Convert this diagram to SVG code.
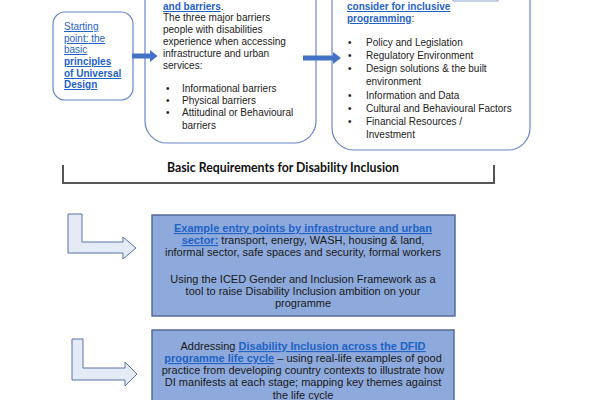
<svg xmlns="http://www.w3.org/2000/svg" width="600" height="400" viewBox="0 0 600 400">
<style>
text{font-family:"Liberation Sans",Arial,sans-serif;font-size:10px;fill:#222}
.m{font-size:11px;fill:#1a1a1a}
.lk{fill:#1F63C6;text-decoration:underline}
.b{font-weight:bold}
.rb{fill:#fff;stroke:#6A86CC;stroke-width:1.2}
.bb{fill:#8EA9DB;stroke:#4C6590;stroke-width:1.4}
.la{fill:#E4EAF6;stroke:#5A72A8;stroke-width:1}
.ca{fill:#4472C4}
</style>
<rect width="600" height="400" fill="#fff"/>
<g id="start">
<rect class="rb" x="53" y="12" width="80" height="88" rx="12"/>
<text x="64" y="30" class="lk">Starting</text>
<text x="64" y="42" class="lk">point: the</text>
<text x="64" y="53" class="lk">basic</text>
<text x="64" y="65" class="lk b">principles</text>
<text x="64" y="77" class="lk b">of Universal</text>
<text x="64" y="88" class="lk b">Design</text>
</g>
<g id="barriers">
<rect class="rb" x="145" y="-40" width="171" height="183" rx="22"/>
<text x="163" y="10"><tspan class="lk b">and barriers</tspan>.</text>
<text x="163" y="21">The three major barriers</text>
<text x="163" y="33">people with disabilities</text>
<text x="163" y="45">experience when accessing</text>
<text x="163" y="57">infrastructure and urban</text>
<text x="163" y="69">services:</text>
<text x="166" y="92">•</text><text x="182" y="92">Informational barriers</text>
<text x="166" y="104">•</text><text x="182" y="104">Physical barriers</text>
<text x="166" y="116">•</text><text x="182" y="116">Attitudinal or Behavioural</text>
<text x="182" y="129">barriers</text>
</g>
<g id="areas">
<rect class="rb" x="332" y="-40" width="198" height="190" rx="22"/>
<rect x="453" y="-10" width="45" height="11" fill="none" stroke="#8FA3CF" stroke-width="1"/>
<text x="347" y="10" class="lk b">consider for inclusive</text>
<text x="347" y="22"><tspan class="lk b">programming</tspan>:</text>
<text x="348" y="46">•</text><text x="366" y="46">Policy and Legislation</text>
<text x="348" y="59">•</text><text x="366" y="59">Regulatory Environment</text>
<text x="348" y="72">•</text><text x="366" y="72">Design solutions &amp; the built</text>
<text x="366" y="85">environment</text>
<text x="348" y="99">•</text><text x="366" y="99">Information and Data</text>
<text x="348" y="112">•</text><text x="366" y="112">Cultural and Behavioural Factors</text>
<text x="348" y="125">•</text><text x="366" y="125">Financial Resources /</text>
<text x="366" y="138">Investment</text>
</g>
<g id="bracket">
<path d="M63,165 V183 H494 V165" fill="none" stroke="#555" stroke-width="2"/>
<text x="283" y="172" text-anchor="middle" style="font-family:Lato,'Liberation Sans',sans-serif;font-weight:bold;font-size:12.3px;fill:#111">Basic Requirements for Disability Inclusion</text>
</g>
<g id="entry">
<rect class="bb" x="152" y="215" width="303" height="101"/>
<text x="303" y="232" text-anchor="middle" class="m lk b">Example entry points by infrastructure and urban</text>
<text x="303" y="244" text-anchor="middle" class="m"><tspan class="lk b">sector:</tspan> transport, energy, WASH, housing &amp; land,</text>
<text x="303" y="256" text-anchor="middle" class="m">informal sector, safe spaces and security, formal workers</text>
<text x="303" y="283" text-anchor="middle" class="m">Using the ICED Gender and Inclusion Framework as a</text>
<text x="303" y="295" text-anchor="middle" class="m">tool to raise Disability Inclusion ambition on your</text>
<text x="303" y="307" text-anchor="middle" class="m">programme</text>
</g>
<g id="lifecycle">
<rect class="bb" x="152" y="330" width="302" height="90"/>
<text x="303" y="350" text-anchor="middle" class="m">Addressing <tspan class="lk b">Disability Inclusion across the DFID</tspan></text>
<text x="303" y="362" text-anchor="middle" class="m"><tspan class="lk b">programme life cycle</tspan> – using real-life examples of good</text>
<text x="303" y="374" text-anchor="middle" class="m">practice from developing country contexts to illustrate how</text>
<text x="303" y="386" text-anchor="middle" class="m">DI manifests at each stage; mapping key themes against</text>
<text x="303" y="399" text-anchor="middle" class="m">the life cycle</text>
</g>
<g id="connectors">
<path class="ca" d="M132,53.5 H150 V50 L157.5,56 L150,62 V58.5 H132 Z"/>
<path class="ca" d="M303,55.5 H333 V52 L341,58 L333,64 V60.5 H303 Z"/>
<path class="la" d="M68,214 H82 V242 H123 V237 L136,248 L123,259 V253 H68 Z"/>
<path class="la" d="M72,339 H83 V368 H125 V362 L137,374 L125,386 V380 H72 Z"/>
</g>
</svg>
